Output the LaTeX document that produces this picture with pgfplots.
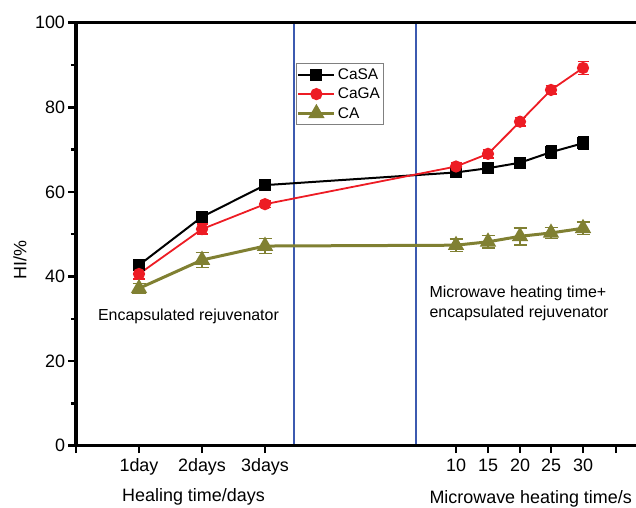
\documentclass[border=0pt]{standalone}
\usepackage{fontspec}
\setmainfont{Liberation Sans}
\usepackage{pgfplots}
\pgfplotsset{compat=1.18}
\definecolor{cred}{RGB}{237,28,36}
\definecolor{colive}{RGB}{128,128,50}
\definecolor{cblue}{RGB}{60,90,176}
\begin{document}
\begin{tikzpicture}
\useasboundingbox (-76bp,-62.3bp) rectangle (560bp,445.7bp);
\begin{axis}[
  at={(0,0)}, anchor=south west,
  scale only axis, width=568bp, height=423bp,
  xmin=76, xmax=644, ymin=0, ymax=100,
  clip=false,
  axis line style={line width=3.2bp, black},
  xtick pos=bottom, ytick pos=left,
  xtick={76,139,202,265,456,488,520,551,583,616},
  xticklabels={,1day,2days,3days,10,15,20,25,30,},
  ytick={0,20,40,60,80,100},
  minor ytick={10,30,50,70,90},
  tick align=outside,
  major tick length=7.5bp, minor tick length=5bp,
  tick style={line width=2.5bp, black},
  tick label style={font=\fontsize{18}{20}\selectfont},
  xticklabel style={yshift=-2bp},
  /pgf/number format/assume math mode=true,
  legend style={at={(axis cs:295.5,90.4)}, anchor=north west, draw=gray, line width=0.8bp,
    font=\fontsize{15.5}{17}\selectfont, inner xsep=1bp, inner ysep=3bp, row sep=3bp, cells={anchor=west}},
  legend image code/.code={\draw[mark repeat=2,mark phase=2,#1] plot coordinates {(-2bp,0bp) (16bp,0bp) (34bp,0bp)};},
  error bars/y dir=both, error bars/y explicit,
]
\addplot[cblue, line width=1.5bp, forget plot] coordinates {(294,0) (294,100)};
\addplot[cblue, line width=1.5bp, forget plot] coordinates {(416,0) (416,100)};

\addplot[black, line width=2bp, mark=square*, mark size=5bp, mark options={solid},
  error bars/error mark options={rotate=90, mark size=5.5bp, line width=1.5bp, black},
  error bars/error bar style={line width=1.5bp, black}]
coordinates {
(139,42.7) +- (0,0.8)
(202,54.1) +- (0,0.8)
(265,61.6) +- (0,0.8)
(456,64.6) +- (0,1.0)
(488,65.6) +- (0,1.2)
(520,66.9) +- (0,1.0)
(551,69.4) +- (0,1.5)
(583,71.5) +- (0,1.5)
};
\addlegendentry{CaSA}

\addplot[cred, line width=1.8bp, mark=*, mark size=5.2bp,
  error bars/error mark options={rotate=90, mark size=5.5bp, line width=1.5bp, cred},
  error bars/error bar style={line width=1.5bp, cred}]
coordinates {
(139,40.6) +- (0,1.2)
(202,51.2) +- (0,1.2)
(265,57.1) +- (0,0.8)
(456,66.0) +- (0,0.8)
(488,69.0) +- (0,1.0)
(520,76.6) +- (0,1.0)
(551,84.1) +- (0,1.0)
(583,89.3) +- (0,1.5)
};
\addlegendentry{CaGA}

\addplot[colive, line width=3bp, mark=triangle*, mark size=6.5bp,
  error bars/error mark options={rotate=90, mark size=6.5bp, line width=1.5bp, colive},
  error bars/error bar style={line width=1.5bp, colive}]
coordinates {
(139,37.2) +- (0,1.2)
(202,43.9) +- (0,1.8)
(265,47.2) +- (0,1.8)
(456,47.4) +- (0,1.5)
(488,48.2) +- (0,1.5)
(520,49.5) +- (0,2.0)
(551,50.3) +- (0,1.3)
(583,51.4) +- (0,1.5)
};
\addlegendentry{CA}

\draw[line width=3.2bp, black, line cap=rect] (rel axis cs:1,0) -- (rel axis cs:0,0) -- (rel axis cs:0,1) -- (rel axis cs:1,1);

\node[font=\fontsize{16}{18}\selectfont] at (axis cs:188.5,30.6) {Encapsulated rejuvenator};
\node[font=\fontsize{16}{19.5}\selectfont, align=left, anchor=west] at (axis cs:426,33.6) {Microwave heating time+\\encapsulated rejuvenator};

\node[font=\fontsize{18}{20}\selectfont] at ([yshift=-51.5bp]axis cs:193.5,0) {Healing time/days};
\node[font=\fontsize{18}{20}\selectfont, anchor=west] at ([yshift=-53.5bp]axis cs:426,0) {Microwave heating time/s};
\node[font=\fontsize{18}{20}\selectfont, rotate=90] at ([xshift=-56bp]axis cs:76,43.9) {HI/\%};
\end{axis}
\end{tikzpicture}
\end{document}
